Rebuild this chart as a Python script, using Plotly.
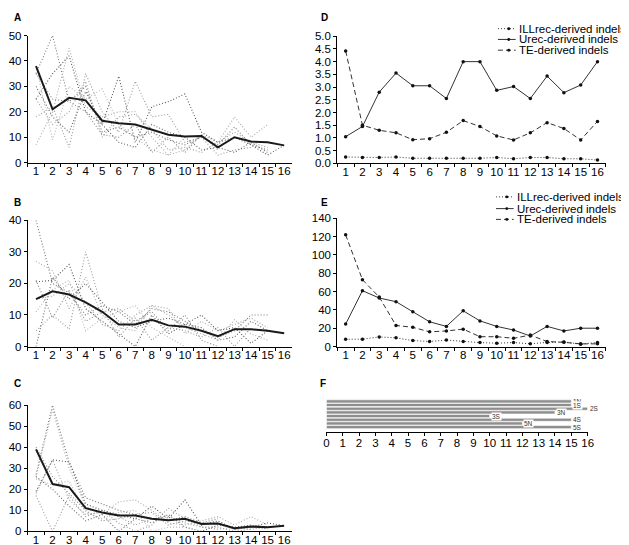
import plotly.graph_objects as go

W, H = 629, 545
def px(x): return x / W
def py(y): return 1 - y / H

cats = [str(i) for i in range(1, 17)]

# Panel A (per-arm dotted lines + mean)
a_arms = [
    [35, 50, 24, 30, 12, 14, 10, 12, 9, 7, 10, 7, 14, 7, 5],
    [7, 20, 45, 22, 18, 20, 20, 10, 3, 5, 11, 8, 18, 10, 15],
    [25, 35, 42, 20, 15, 34, 8, 22, 24, 27, 12, 8, 10, 7, 3, 6.8],
    [18, 22, 6, 35, 20, 12, 32, 18, 19, 8, 10, 3, 5, 6],
    [38, 9, 30, 25, 29, 15, 10, 5, 3, 10],
    [30, 18, 12, 28, 15, 8, 6, 15, 12, 10, 5, 6, 4, 8, 4],
    [35, 25, 24, 20, 11, 10, 15, 4, 10, 4, 11, 5],
    [25, 15, 20, 32, 10, 18, 19, 13, 5, 6, 4, 8, 12, 8, 6],
]
a_mean = [38, 21, 25.5, 24.5, 16.5, 15.5, 15, 13, 11, 10.3, 10.5, 6, 10, 8.3, 8, 6.8]

# Panel B
b_arms = [
    [40, 20, 17, 10, 13, 11, 7, 12, 11, 8, 5, 3, 5, 10, 10],
    [27, 24, 12, 22, 10, 6, 5, 13, 10, 6, 4, 2, 8.5, 4, 2],
    [20.5, 21, 26, 12, 8, 4, 0, 10, 4, 7, 10, 5, 6, 1, 5, 4.2],
    [5, 10, 5.5, 30, 12, 3, 9, 2, 6, 5, 3, 6, 0, 6],
    [11, 18, 21, 5, 9, 11, 13, 6, 3, 0],
    [0, 22, 15, 20, 14, 8, 6, 8, 9, 7, 6, 2, 3, 8, 5],
    [21, 9, 18, 8, 11, 12, 8, 11, 5, 10, 2, 0],
    [15, 16, 20, 14, 7, 5, 10, 13, 12, 4, 8, 5, 7, 9, 6],
]
b_mean = [15, 17.5, 16.5, 14, 11, 7, 7, 8.5, 6.7, 6.3, 5, 3.3, 5.5, 5.5, 5, 4.2]

# Panel C
c_arms = [
    [27, 60, 33, 16, 13, 10, 8, 6, 5, 7, 4, 4, 1, 2, 2],
    [26, 58, 30, 12, 8, 14, 15, 10, 4, 3, 5, 7, 3, 7, 3],
    [19, 34, 33, 13, 10, 8, 6, 12, 6, 15, 3, 5, 1, 2, 4, 2.7],
    [17, 0, 17, 7, 10, 4, 0, 3, 11, 6, 2, 2, 0, 1],
    [25, 22, 24, 9, 6, 9, 10, 0, 2, 2],
    [26, 20, 12, 5, 8, 0, 6, 4, 8, 2, 0, 3, 2, 3, 1],
    [40, 26, 18, 10, 5, 6, 8, 9, 3, 5, 4, 6],
    [18, 34, 15, 8, 9, 7, 3, 6, 7, 4, 2, 1, 2, 1, 2],
]
c_mean = [39, 22.5, 21, 11, 9, 7.5, 7.5, 6, 5.3, 6, 3.5, 3.7, 1.5, 2.3, 2, 2.7]

# Panel D
d_ill = [0.25, 0.23, 0.23, 0.25, 0.2, 0.2, 0.2, 0.2, 0.2, 0.23, 0.18, 0.23, 0.23, 0.18, 0.18, 0.13]
d_urec = [1.05, 1.45, 2.8, 3.55, 3.05, 3.05, 2.55, 4.0, 4.0, 2.87, 3.02, 2.55, 3.43, 2.78, 3.08, 4.0]
d_te = [4.42, 1.5, 1.3, 1.2, 0.93, 0.97, 1.22, 1.68, 1.45, 1.08, 0.92, 1.2, 1.6, 1.37, 0.92, 1.65]

# Panel E
e_ill = [8, 8, 10.5, 9.5, 6.5, 5.5, 7, 5.5, 4.3, 3.6, 4.3, 3, 4.5, 5, 2.5, 4.5]
e_urec = [24.5, 61, 53, 49, 38, 27, 22, 39, 28, 22, 18, 11.5, 22, 17, 20, 20]
e_te = [122, 73, 54, 23, 21, 16, 17, 19, 10.7, 10.7, 9, 12.5, 5.4, 4.6, 2.9, 2.9]

series_names = ["ILLrec-derived indels", "Urec-derived indels", "TE-derived indels"]

# Panel F
arms = ["1N", "1S", "2S", "3N", "3S", "4S", "5N", "5S"]
arm_len = [15, 15, 16, 14, 10, 15, 12, 15]

FONT = "Liberation Sans, Arial, sans-serif"
dot_colors = ["#777777", "#aaaaaa", "#555555", "#999999", "#b5b5b5", "#666666", "#8a8a8a", "#a0a0a0"]
DOT = "1px,2px"
DASH = "5px,3px"

fig = go.Figure()

def add_panel(arms_vals, mean_vals, ax):
    xa, ya = ("x" if ax == 1 else f"x{ax}"), ("y" if ax == 1 else f"y{ax}")
    for i, s in enumerate(arms_vals):
        fig.add_trace(go.Scatter(x=cats[:len(s)], y=s, mode="lines", xaxis=xa, yaxis=ya,
                                 line=dict(color=dot_colors[i % len(dot_colors)], width=1.1, dash=DOT),
                                 showlegend=False, hoverinfo="skip"))
    fig.add_trace(go.Scatter(x=cats, y=mean_vals, mode="lines", xaxis=xa, yaxis=ya,
                             line=dict(color="#1a1a1a", width=2), showlegend=False))

add_panel(a_arms, a_mean, 1)
add_panel(b_arms, b_mean, 2)
add_panel(c_arms, c_mean, 3)

styles = [DOT, "solid", DASH]
for ax, data in ((4, (d_ill, d_urec, d_te)), (5, (e_ill, e_urec, e_te))):
    for name, vals, st in zip(series_names, data, styles):
        fig.add_trace(go.Scatter(x=cats, y=vals, mode="lines+markers", name=name,
                                 xaxis=f"x{ax}", yaxis=f"y{ax}",
                                 line=dict(color="#333333", width=1, dash=st),
                                 marker=dict(color="#111111", size=3.5),
                                 showlegend=False))

fig.add_trace(go.Bar(y=arms, x=arm_len, orientation="h", xaxis="x6", yaxis="y6",
                     marker=dict(color="#8e8e8e", line=dict(color="white", width=0.6)),
                     showlegend=False, width=0.85))

tickfont = dict(family=FONT, size=11.5, color="black")
common_x = dict(type="category", tickson="boundaries", ticks="outside", ticklen=3,
                tickcolor="black", tickwidth=1, showline=True, linecolor="black",
                linewidth=1, showgrid=False, zeroline=False, tickfont=tickfont,
                range=[-0.5, 15.5], tickangle=0, fixedrange=True, ticklabelstandoff=-2)
common_y = dict(ticks="outside", ticklen=3, tickcolor="black", tickwidth=1,
                showline=True, linecolor="black", linewidth=1, showgrid=False,
                zeroline=False, tickfont=tickfont)

L1, R1 = px(17), px(285.5)
L2, R2 = px(331), px(603.5)

layout = dict(
    width=W, height=H, margin=dict(l=0, r=0, t=0, b=0),
    paper_bgcolor="white", plot_bgcolor="white", showlegend=False,
    font=dict(family=FONT, color="black"),
    xaxis=dict(domain=[L1, R1], anchor="y", **common_x),
    yaxis=dict(domain=[py(152), py(22)], anchor="x", range=[0, 50], dtick=10, **common_y),
    xaxis2=dict(domain=[L1, R1], anchor="y2", **common_x),
    yaxis2=dict(domain=[py(340), py(211)], anchor="x2", range=[0, 40], dtick=10, **common_y),
    xaxis3=dict(domain=[L1, R1], anchor="y3", **common_x),
    yaxis3=dict(domain=[py(529), py(400)], anchor="x3", range=[0, 60], dtick=10, **common_y),
    xaxis4=dict(domain=[L2, R2], anchor="y4", **common_x),
    yaxis4=dict(domain=[py(152.7), py(22.7)], anchor="x4", range=[0, 5], dtick=0.5,
                tickformat=".1f", **common_y),
    xaxis5=dict(domain=[L2, R2], anchor="y5", **common_x),
    yaxis5=dict(domain=[py(340), py(209)], anchor="x5", range=[0, 140], dtick=20, **common_y),
    xaxis6=dict(domain=[px(320), px(585)], anchor="y6", range=[0, 16], dtick=1,
                ticks="outside", ticklen=3, tickcolor="black", showline=True,
                linecolor="black", linewidth=1, showgrid=False, zeroline=False,
                tickfont=tickfont, tickangle=0, ticklabelstandoff=-2),
    yaxis6=dict(domain=[py(427), py(391.5)], anchor="x6", autorange="reversed",
                showticklabels=False, showline=False, showgrid=False, ticks=""),
    bargap=0.1,
)
fig.update_layout(**layout)

ann = []
for letter, (x, y) in zip("ABCDEF", [(1, 4), (1, 193), (1, 378), (312, 4), (312, 193), (311, 378)]):
    ann.append(dict(text=f"<b>{letter}</b>", x=px(x), y=py(y), xref="paper", yref="paper",
                    xanchor="left", yanchor="middle", showarrow=False,
                    font=dict(family=FONT, size=10, color="black")))
for a, v in zip(arms, arm_len):
    ann.append(dict(text=a, x=v, y=a, xref="x6", yref="y6", xanchor="left", yanchor="middle",
                    xshift=1, showarrow=False, bgcolor="white", borderpad=0,
                    font=dict(family=FONT, size=6.5, color="#333333")))

shapes = []
def legend(x_line0, x_line1, x_text, rows):
    for (name, st, y) in zip(series_names, [DOT, "solid", DASH], rows):
        shapes.append(dict(type="line", xref="paper", yref="paper", x0=px(x_line0), x1=px(x_line1),
                           y0=py(y), y1=py(y), line=dict(color="#333333", width=1, dash=st)))
        xm = (x_line0 + x_line1) / 2 + 2
        shapes.append(dict(type="circle", xref="paper", yref="paper", x0=px(xm - 1.5), x1=px(xm + 1.5),
                           y0=py(y + 1.5), y1=py(y - 1.5), fillcolor="#111111", line=dict(width=0)))
        ann.append(dict(text=name, x=px(x_text), y=py(y), xref="paper", yref="paper",
                        xanchor="left", yanchor="middle", showarrow=False, borderpad=0,
                        font=dict(family=FONT, size=11.5, color="black")))

legend(494, 512, 514, [15, 26, 37])
legend(492, 510, 512, [187, 199, 210])

fig.update_layout(annotations=ann, shapes=shapes)
fig.write_html("out.html")
